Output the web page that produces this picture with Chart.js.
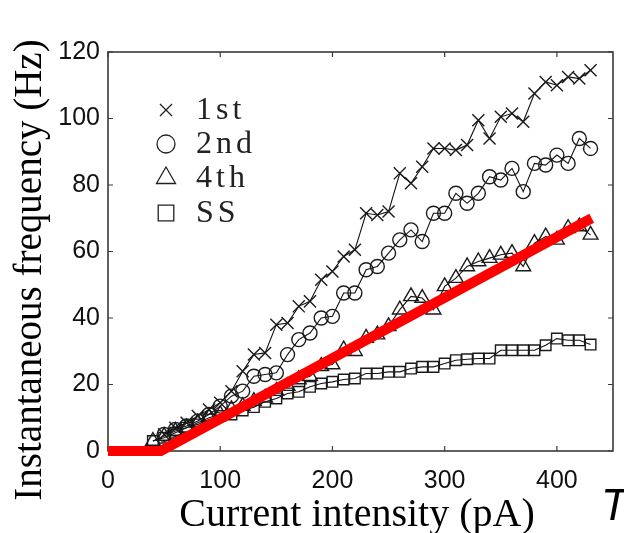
<!DOCTYPE html>
<html>
<head>
<meta charset="utf-8">
<script src="https://cdn.jsdelivr.net/npm/chart.js@4.4.1/dist/chart.umd.min.js"></script>
<style>
  html, body { margin: 0; padding: 0; background: #fff; }
  #wrap { width: 624px; height: 533px; }
</style>
</head>
<body>
<div id="wrap"><canvas id="freqChart" width="624" height="533"></canvas></div>
<script>
// injected current (pA), one marker every 10 pA
const currents = [40, 50, 60, 70, 80, 90, 100, 110, 120, 130, 140, 150, 160, 170, 180, 190, 200, 210, 220, 230,
                  240, 250, 260, 270, 280, 290, 300, 310, 320, 330, 340, 350, 360, 370, 380, 390, 400, 410, 420, 430];

// instantaneous frequency (Hz) per spike interval; null = no marker
const freq1st = [null, 5, 7, 8.5, 10.5, 12.5, 14.5, 18, 24, 29, 29.5, 38, 38.5, 43.5, 45, 51.5, 54, 58.5, 60.5, 71.5,
                 71, 72, 83.5, 80.5, 85.5, 91, 91, 90.5, 92, 99.5, 94, 100.5, 101.5, 99, 107.5, 111, 110, 112.5, 112, 114.5];
const freq2nd = [null, 5, 6.5, 7.5, 9, 11, 13.5, 16.5, 18, 22.5, 23, 23.5, 29, 33.5, 35.5, 40, 40.5, 47.5, 47.5, 54.5,
                 55.5, 59.5, 63.5, 66.5, 63, 71.5, 71.5, 77.5, 74.5, 77.5, 82.5, 81.5, 85, 78, 86.5, 86, 89, 86.5, 94, 91];
const freq4th = [3, 4.5, 6, 7, 8.5, 10, 11, 12.5, 13.5, 15, 16, 18, 19.5, 21.5, 22.5, 25.5, 26, 30.5, 30, 34,
                 35, 37.5, 42.5, 46.5, 46, 42.5, 49.5, 52, 55.5, 57, 58, 59, 59.5, 55.5, 62.5, 64.5, 63.5, 67, 67.5, 65];
const freqSS  = [3, 4, 5.5, 7, 8, 9.5, 10.5, 11, 12.2, 13.2, 14.8, 15.8, 17.3, 17.8, 19.3, 20.3, 20.8, 21.5, 21.8, 23.3,
                 23.3, 23.8, 23.8, 24.8, 25.3, 25.3, 26.3, 27.3, 27.6, 27.8, 27.8, 30.3, 30.3, 30.3, 30.3, 31.8, 33.8, 33.3, 33.3, 32];

// red overlay line (threshold-linear fit)
const fitCurrent = [0, 47, 431];
const fitFreq = [0, 0, 70];

const seriesNames = ["1st", "2nd", "4th", "SS"];
const seriesStyles = ["crossRot", "circle", "triangle", "rect"];
const xTickValues = [0, 100, 200, 300, 400];
const yTickValues = [0, 20, 40, 60, 80, 100, 120];

const xTitle = "Current intensity (pA)";
const yTitle = "Instantaneous frequency (Hz)";

function toPoints(xs, ys) {
  const pts = [];
  xs.forEach((x, i) => {
    if (ys[i] !== null && ys[i] !== undefined) pts.push({ x: x, y: ys[i] });
  });
  return pts;
}

const markerRadius = { crossRot: 8.5, circle: 7, triangle: 8.5, rect: 7.5 };

function spikeSeries(label, values, style) {
  return {
    label: label,
    data: toPoints(currents, values),
    showLine: true,
    borderColor: "#111",
    borderWidth: 1.1,
    pointStyle: style,
    pointRadius: markerRadius[style],
    pointBorderColor: "#1a1a1a",
    pointBackgroundColor: "rgba(0,0,0,0)",
    pointBorderWidth: 1.4,
    clip: false,
    order: 1
  };
}

const framePlugin = {
  id: "frame",
  beforeDatasetsDraw(chart) {
    const { ctx, chartArea: a, scales } = chart;
    ctx.save();
    ctx.strokeStyle = "#3a3a3a";
    ctx.lineWidth = 1.6;
    ctx.strokeRect(a.left, a.top, a.right - a.left, a.bottom - a.top);
    ctx.lineWidth = 1.2;
    ctx.beginPath();
    xTickValues.forEach(v => {
      const px = scales.x.getPixelForValue(v);
      ctx.moveTo(px, a.bottom); ctx.lineTo(px, a.bottom - 5);
      ctx.moveTo(px, a.top); ctx.lineTo(px, a.top + 5);
    });
    yTickValues.forEach(v => {
      const py = scales.y.getPixelForValue(v);
      ctx.moveTo(a.left, py); ctx.lineTo(a.left + 5, py);
      ctx.moveTo(a.right, py); ctx.lineTo(a.right - 5, py);
    });
    ctx.stroke();
    ctx.restore();
  },
  afterDraw(chart) {
    const { ctx, chartArea: a } = chart;
    ctx.save();
    ctx.fillStyle = "#000";

    // axis titles
    ctx.textAlign = "center";
    ctx.textBaseline = "alphabetic";
    ctx.font = "40px 'Liberation Serif', 'DejaVu Serif', serif";
    ctx.fillText(xTitle, 357, 526);
    ctx.font = "39px 'Liberation Serif', 'DejaVu Serif', serif";
    ctx.translate(41, 270);
    ctx.rotate(-Math.PI / 2);
    ctx.fillText(yTitle, 0, 0);
    ctx.setTransform(1, 0, 0, 1, 0, 0);

    // legend inside plot
    const rowY = [110, 144, 178, 213];
    const legendRadius = { crossRot: 8.5, circle: 9, triangle: 11, rect: 11 };
    ctx.font = "32px 'Liberation Serif', 'DejaVu Serif', serif";
    ctx.textAlign = "left";
    ctx.textBaseline = "middle";
    ctx.letterSpacing = "4px";
    seriesNames.forEach((name, i) => {
      const style = seriesStyles[i];
      ctx.strokeStyle = "#222";
      ctx.fillStyle = "rgba(0,0,0,0)";
      ctx.lineWidth = 1.3;
      Chart.helpers.drawPoint(ctx, { pointStyle: style, rotation: 0, radius: legendRadius[style], borderWidth: 1.3 }, 166, rowY[i]);
      ctx.fillStyle = "#222";
      ctx.fillText(name, 196, rowY[i] + 1);
    });
    ctx.letterSpacing = "0px";

    // clipped letter at the right edge of the source figure
    ctx.font = "italic 44px 'Liberation Sans', 'DejaVu Sans', sans-serif";
    ctx.textBaseline = "alphabetic";
    ctx.fillStyle = "#000";
    ctx.fillText("T", 601, 520);
    ctx.restore();
  }
};

const tickFont = { family: "'Liberation Sans', Arial, sans-serif", size: 25 };

new Chart(document.getElementById("freqChart"), {
  type: "scatter",
  data: {
    datasets: [
      {
        label: "fit",
        data: toPoints(fitCurrent, fitFreq),
        showLine: true,
        borderColor: "#ff0000",
        borderWidth: 10,
        pointRadius: 0,
        clip: false,
        order: 0
      },
      spikeSeries(seriesNames[0], freq1st, seriesStyles[0]),
      spikeSeries(seriesNames[1], freq2nd, seriesStyles[1]),
      spikeSeries(seriesNames[2], freq4th, seriesStyles[2]),
      spikeSeries(seriesNames[3], freqSS, seriesStyles[3])
    ]
  },
  options: {
    responsive: false,
    animation: false,
    layout: { padding: { left: 0, top: 52, right: 11, bottom: 0 } },
    plugins: { legend: { display: false }, tooltip: { enabled: false } },
    scales: {
      x: {
        type: "linear",
        min: 0,
        max: 450,
        grid: { display: false, drawTicks: false },
        border: { display: false },
        ticks: { font: tickFont, color: "#111", padding: 15, maxRotation: 0 },
        afterBuildTicks: s => { s.ticks = xTickValues.map(v => ({ value: v })); },
        afterFit: s => { s.height = 82; }
      },
      y: {
        type: "linear",
        min: 0,
        max: 120,
        grid: { display: false, drawTicks: false },
        border: { display: false },
        ticks: { font: tickFont, color: "#111", padding: 8 },
        afterBuildTicks: s => { s.ticks = yTickValues.map(v => ({ value: v })); },
        afterFit: s => { s.width = 108; }
      }
    }
  },
  plugins: [framePlugin]
});
</script>
</body>
</html>
